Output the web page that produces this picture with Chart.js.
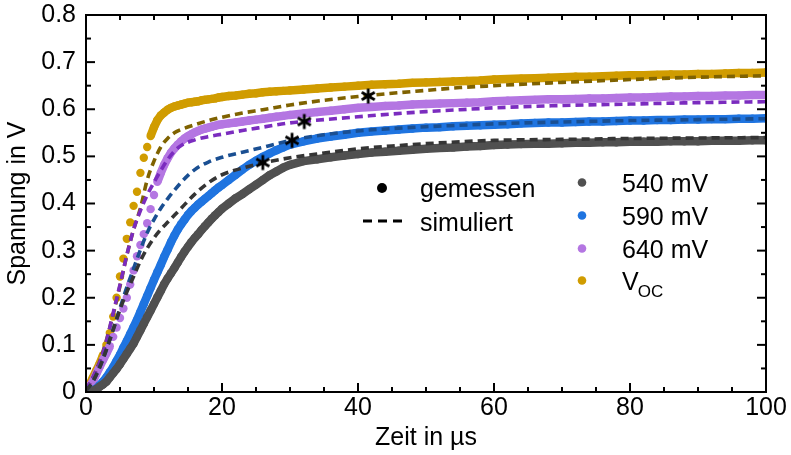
<!DOCTYPE html>
<html><head><meta charset="utf-8">
<script src="https://cdn.jsdelivr.net/npm/chart.js@4"></script>
<style>html,body{margin:0;padding:0;background:#fff}#wrap{width:791px;height:455px;position:relative}</style>
</head><body><div id="wrap"><canvas id="c"></canvas></div>
<script>
// ---------- data ----------
const timeMeasured = [0,0.5,1,1.5,2,2.5,3,3.5,4,4.5,5,5.5,6,6.5,7,7.5,8,8.5,9,9.5,10,10.5,11,11.5,12,12.5,13,13.5,14,14.5,15,15.5,16,16.5,17,17.5,18,18.5,19,19.5,20,21,22,23,24,25,26,27,28,29,30,32,34,36,38,40,42,44,46,48,50,52,54,56,58,60,62,64,66,68,70,72,74,76,78,80,82,84,86,88,90,92,94,96,98,100];
const mv540Measured = [0.000,0.000,0.002,0.006,0.011,0.016,0.022,0.031,0.040,0.049,0.059,0.070,0.081,0.092,0.103,0.117,0.131,0.145,0.159,0.173,0.187,0.201,0.215,0.229,0.241,0.252,0.263,0.275,0.287,0.298,0.308,0.318,0.327,0.335,0.344,0.352,0.360,0.368,0.375,0.382,0.389,
 0.400,0.411,0.420,0.430,0.440,0.450,0.460,0.468,0.476,0.482,
 0.490,0.494,0.498,0.502,0.505,0.508,0.510,0.512,0.514,0.516,0.518,0.519,0.521,0.522,0.524,0.525,0.526,0.527,0.527,0.528,0.529,0.529,0.530,0.530,0.531,0.531,0.531,0.532,0.532,0.532,0.533,0.533,0.533,0.534,0.534];
const mv590Measured = [0.000,0.001,0.003,0.007,0.014,0.022,0.031,0.042,0.053,0.066,0.079,0.094,0.108,0.123,0.138,0.153,0.170,0.187,0.204,0.221,0.238,0.254,0.270,0.287,0.302,0.318,0.332,0.345,0.356,0.366,0.376,0.384,0.391,0.398,0.404,0.410,0.416,0.422,0.428,0.434,0.439,
 0.450,0.461,0.472,0.482,0.491,0.499,0.506,0.513,0.519,0.525,
 0.532,0.538,0.542,0.546,0.550,0.553,0.555,0.557,0.559,0.561,0.562,0.564,0.565,0.566,0.567,0.568,0.570,0.571,0.572,0.572,0.573,0.574,0.574,0.575,0.576,0.576,0.577,0.577,0.578,0.578,0.579,0.579,0.580,0.580,0.581];
const mv640Measured = [0.005,0.012,0.022,0.038,0.053,0.068,0.082,0.097,0.117,0.137,0.157,0.177,0.200,0.228,0.258,0.288,0.312,0.335,0.358,0.388,0.418,0.446,0.465,0.482,0.496,0.508,0.517,0.525,0.532,0.538,0.543,0.547,0.551,0.554,0.557,0.559,0.561,0.563,0.565,0.567,0.568,
 0.570,0.572,0.574,0.576,0.578,0.580,0.582,0.584,0.586,0.588,
 0.591,0.594,0.597,0.600,0.603,0.605,0.607,0.608,0.610,0.611,0.612,0.613,0.614,0.615,0.617,0.618,0.619,0.620,0.621,0.621,0.622,0.623,0.623,0.624,0.625,0.625,0.626,0.627,0.627,0.628,0.628,0.629,0.629,0.630,0.630];
const vocMeasured = [0.008,0.015,0.030,0.045,0.060,0.078,0.100,0.125,0.160,0.200,0.245,0.283,0.325,0.360,0.395,0.425,0.465,0.497,0.520,0.543,0.562,0.577,0.587,0.593,0.599,0.603,0.606,0.608,0.610,0.612,0.614,0.615,0.616,0.617,0.619,0.620,0.621,0.622,0.623,0.625,0.626,
 0.628,0.629,0.631,0.633,0.634,0.636,0.637,0.638,0.639,0.640,
 0.642,0.644,0.646,0.648,0.650,0.652,0.653,0.654,0.656,0.657,0.658,0.659,0.660,0.661,0.663,0.664,0.665,0.666,0.667,0.668,0.669,0.669,0.670,0.671,0.672,0.672,0.673,0.674,0.674,0.675,0.675,0.676,0.677,0.677,0.678];

const timeSimulated = [0,1,2,3,4,5,6,7,8,9,10,11,12,13,14,16,18,20,23,26,30,35,40,45,50,55,60,70,80,90,100];
const mv540Simulated = [0.003,0.022,0.052,0.090,0.132,0.175,0.212,0.245,0.278,0.305,0.327,0.345,0.360,0.375,0.390,0.420,0.444,0.461,0.475,0.486,0.497,0.507,0.516,0.522,0.527,0.531,0.534,0.536,0.538,0.539,0.540];
const mv590Simulated = [0.003,0.022,0.052,0.090,0.133,0.178,0.222,0.262,0.302,0.338,0.366,0.390,0.410,0.428,0.445,0.472,0.488,0.498,0.509,0.519,0.534,0.546,0.554,0.559,0.563,0.566,0.569,0.573,0.576,0.578,0.580];
const mv640Simulated = [0.005,0.030,0.062,0.108,0.168,0.228,0.290,0.345,0.385,0.418,0.445,0.470,0.493,0.511,0.523,0.535,0.542,0.547,0.555,0.562,0.571,0.578,0.584,0.590,0.595,0.599,0.603,0.608,0.611,0.614,0.616];
const vocSimulated = [0.005,0.030,0.065,0.110,0.165,0.225,0.290,0.345,0.390,0.450,0.490,0.520,0.538,0.550,0.557,0.567,0.576,0.583,0.592,0.599,0.609,0.619,0.627,0.634,0.640,0.646,0.650,0.657,0.663,0.668,0.671];

const markerTime = [26.0, 30.3, 32.1, 41.5];
const markerVoltage = [0.487, 0.534, 0.574, 0.628];

const seriesLabels = ['540 mV', '590 mV', '640 mV', 'V'];
const vocSubscript = 'OC';
const keyLabels = ['gemessen', 'simuliert'];
const xTickValues = [0, 20, 40, 60, 80, 100];
const yTickValues = [0, 0.1, 0.2, 0.3, 0.4, 0.5, 0.6, 0.7, 0.8];
const xTitle = 'Zeit in \u00b5s';
const yTitle = 'Spannung in V';

// ---------- styling ----------
const FONT = "'Liberation Sans', Arial, Helvetica, sans-serif";
const measColors = ['#505050', '#1f74e0', '#b476e2', '#d09c00'];
const simColors  = ['#353535', '#1a4f92', '#7b2cbf', '#7f6200'];

function pts(xs, ys) { return xs.map((x, i) => ({ x: x, y: ys[i] })); }
function measured(label, ys, color) {
  return {
    label: label, data: pts(timeMeasured, ys), showLine: true,
    borderColor: color, backgroundColor: color, borderWidth: 8.5,
    pointRadius: 4.2, pointHoverRadius: 4.2, pointBorderWidth: 0, pointBackgroundColor: color,
    tension: 0, order: 2, fill: false,
    segment: { borderColor: c => Math.abs(c.p1.y - c.p0.y) > 9 ? 'rgba(0,0,0,0)' : color }
  };
}
function simulated(label, ys, color) {
  return {
    label: label, data: pts(timeSimulated, ys), showLine: true,
    borderColor: color, borderWidth: 3.6, borderDash: [8, 5],
    pointRadius: 0, pointHoverRadius: 0, cubicInterpolationMode: 'monotone', order: 1, fill: false
  };
}

const star = document.createElement('canvas');
star.width = 18; star.height = 18;
(function () {
  const s = star.getContext('2d');
  s.strokeStyle = '#000'; s.lineWidth = 2.8;
  for (const a of [90, 30, 150]) {
    const r = a * Math.PI / 180;
    s.beginPath();
    s.moveTo(9 - 7.5 * Math.cos(r), 9 - 7.5 * Math.sin(r));
    s.lineTo(9 + 7.5 * Math.cos(r), 9 + 7.5 * Math.sin(r));
    s.stroke();
  }
})();

const framePlugin = {
  id: 'frame',
  afterDraw(chart) {
    const ctx = chart.ctx, a = chart.chartArea, xs = chart.scales.x, ys = chart.scales.y;
    const line = (x1, y1, x2, y2) => { ctx.beginPath(); ctx.moveTo(x1, y1); ctx.lineTo(x2, y2); ctx.stroke(); };
    ctx.save();
    ctx.strokeStyle = '#000'; ctx.lineWidth = 2; ctx.setLineDash([]);
    ctx.strokeRect(a.left, a.top, a.right - a.left, a.bottom - a.top);
    for (let v = 0; v <= 100; v += 5) {
      const px = xs.getPixelForValue(v), L = (v % 20 === 0) ? 9 : 5;
      line(px, a.bottom, px, a.bottom - L);
      line(px, a.top, px, a.top + L);
    }
    for (let k = 0; k <= 16; k++) {
      const py = ys.getPixelForValue(k * 0.05), L = (k % 2 === 0) ? 9 : 5;
      line(a.left, py, a.left + L, py);
      line(a.right, py, a.right - L, py);
    }
    // key legend
    ctx.fillStyle = '#000';
    ctx.font = '25px ' + FONT; ctx.textAlign = 'left'; ctx.textBaseline = 'alphabetic';
    ctx.beginPath(); ctx.arc(382, 188, 5, 0, Math.PI * 2); ctx.fill();
    ctx.fillText(keyLabels[0], 420, 197);
    ctx.lineWidth = 3; ctx.setLineDash([9, 6]);
    line(363, 221, 402, 221);
    ctx.setLineDash([]);
    ctx.fillText(keyLabels[1], 420, 231);
    // series legend
    const base = [192, 225, 258, 290];
    for (let i = 0; i < 4; i++) {
      ctx.fillStyle = measColors[i];
      ctx.beginPath(); ctx.arc(582, base[i] - 9.5, 4.3, 0, Math.PI * 2); ctx.fill();
      ctx.fillStyle = '#000';
      ctx.font = '25px ' + FONT;
      ctx.fillText(seriesLabels[i], 622, base[i]);
      if (i === 3) {
        const w = ctx.measureText(seriesLabels[i]).width;
        ctx.font = '17px ' + FONT;
        ctx.fillText(vocSubscript, 622 + w - 1, base[i] + 7);
      }
    }
    ctx.restore();
  }
};

const datasets = [
  measured(seriesLabels[0], mv540Measured, measColors[0]),
  measured(seriesLabels[1], mv590Measured, measColors[1]),
  measured(seriesLabels[2], mv640Measured, measColors[2]),
  measured('V' + vocSubscript, vocMeasured, measColors[3]),
  simulated(seriesLabels[0] + ' sim', mv540Simulated, simColors[0]),
  simulated(seriesLabels[1] + ' sim', mv590Simulated, simColors[1]),
  simulated(seriesLabels[2] + ' sim', mv640Simulated, simColors[2]),
  simulated('V' + vocSubscript + ' sim', vocSimulated, simColors[3]),
  { label: 'markers', data: pts(markerTime, markerVoltage), showLine: false,
    pointStyle: star, pointRadius: 9, pointHoverRadius: 9, order: 0 }
];

new Chart(document.getElementById('c'), {
  type: 'line',
  data: { datasets: datasets },
  options: {
    responsive: true, maintainAspectRatio: false, animation: false,
    devicePixelRatio: 1,
    layout: { padding: { left: 0, right: 25, top: 15, bottom: 0 } },
    plugins: { legend: { display: false }, tooltip: { enabled: false } },
    events: [],
    scales: {
      x: {
        type: 'linear', min: 0, max: 100,
        afterBuildTicks: s => { s.ticks = xTickValues.map(v => ({ value: v })); },
        ticks: { font: { family: FONT, size: 25 }, color: '#000', padding: 1, maxRotation: 0, autoSkip: false,
                 callback: v => String(v) },
        grid: { display: false, drawTicks: false },
        border: { display: false },
        title: { display: true, text: xTitle, color: '#000', font: { family: FONT, size: 25 }, padding: { top: 0, bottom: 2 } },
        afterFit: s => { s.height = 63; s.paddingLeft = 0; s.paddingRight = 0; }
      },
      y: {
        type: 'linear', min: 0, max: 0.8,
        afterBuildTicks: s => { s.ticks = yTickValues.map(v => ({ value: v })); },
        ticks: { font: { family: FONT, size: 25 }, color: '#000', padding: 10, autoSkip: false,
                 callback: v => (v === 0 ? '0' : Number(v).toFixed(1)) },
        grid: { display: false, drawTicks: false },
        border: { display: false },
        title: { display: true, text: yTitle, color: '#000', font: { family: FONT, size: 25 }, padding: { top: 3, bottom: 0 } },
        afterFit: s => { s.width = 86; s.paddingTop = 0; s.paddingBottom = 0; }
      }
    }
  },
  plugins: [framePlugin]
});
</script>
</body></html>
